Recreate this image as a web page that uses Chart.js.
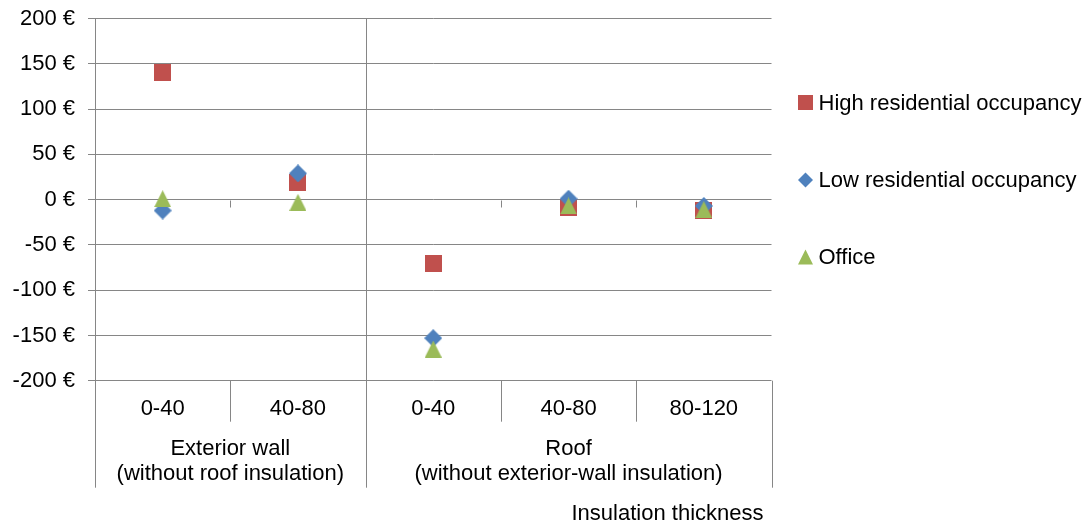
<!DOCTYPE html>
<html>
<head>
<meta charset="utf-8">
<script src="https://cdn.jsdelivr.net/npm/chart.js@4"></script>
<style>
  html, body { margin: 0; padding: 0; background: #ffffff; }
  #wrap { width: 1089px; height: 527px; }
</style>
</head>
<body>
<div id="wrap"><canvas id="c" width="1089" height="527"></canvas></div>
<script>
// Insulation thickness classes (mm), one per category on the horizontal axis
const thicknessLabels = ['0-40', '40-80', '0-40', '40-80', '80-120'];
// Building element groups and how many thickness classes each spans
const groupLabels = [
  ['Exterior wall', '(without roof insulation)'],
  ['Roof', '(without exterior-wall insulation)']
];
const groupSizes = [2, 3];
const axisTitle = 'Insulation thickness';

// Series
const seriesNames = ['High residential occupancy', 'Low residential occupancy', 'Office'];
const seriesColors = ['#C0504D', '#4F81BD', '#9BBB59'];
const highResidential = [140, 19, -70, -9, -12];
const lowResidential = [-12, 29, -153, 1, -7];
const office = [1, -3, -165, -7, -11];

// Value axis
const yMin = -200;
const yMax = 200;
const yStep = 50;
const currency = '\u20AC';

const FONT = '"Liberation Sans", Arial, Helvetica, sans-serif';
const TEXT_COLOR = '#000000';
const LINE_COLOR = '#868686';

// Marker images (square, diamond, triangle), centred on their bounding box
function makeMarker(shape, color, size) {
  const c = document.createElement('canvas');
  c.width = size; c.height = size;
  const g = c.getContext('2d');
  g.fillStyle = color;
  g.beginPath();
  traceShape(g, shape, 0, 0, size);
  g.fill();
  return c;
}
function traceShape(g, shape, x, y, s) {
  if (shape === 'square') {
    g.rect(x, y, s, s);
  } else if (shape === 'diamond') {
    g.moveTo(x + s / 2, y);
    g.lineTo(x + s, y + s / 2);
    g.lineTo(x + s / 2, y + s);
    g.lineTo(x, y + s / 2);
    g.closePath();
  } else {
    g.moveTo(x + s / 2, y);
    g.lineTo(x + s, y + s);
    g.lineTo(x, y + s);
    g.closePath();
  }
}
const markerShapes = ['square', 'diamond', 'triangle'];
const markerSizes = [17, 18, 17];

const seriesData = [highResidential, lowResidential, office];
const datasets = seriesData.map((d, i) => ({
  label: seriesNames[i],
  data: d,
  showLine: false,
  pointStyle: makeMarker(markerShapes[i], seriesColors[i], markerSizes[i]),
  pointRadius: 9,
  pointHoverRadius: 9,
  backgroundColor: seriesColors[i],
  borderColor: seriesColors[i],
  // office drawn on top, high residential at the bottom
  order: 3 - i
}));

// Draws the two-level category axis, its separators, the axis title and the legend
const groupedAxis = {
  id: 'groupedAxis',
  beforeDatasetsDraw(chart) {
    const { ctx, chartArea: a, scales: { x, y } } = chart;
    const n = thicknessLabels.length;
    const bounds = [a.left];
    for (let i = 1; i < n; i++) {
      bounds.push((x.getPixelForValue(i - 1) + x.getPixelForValue(i)) / 2);
    }
    bounds.push(a.right);
    const crisp = v => Math.round(v) + 0.5;
    const y0 = y.getPixelForValue(0);
    const catBottom = a.bottom + 41;
    const groupBottom = a.bottom + 107;

    const groupEdges = [0];
    groupSizes.reduce((acc, s) => { groupEdges.push(acc + s); return acc + s; }, 0);

    ctx.save();
    ctx.strokeStyle = LINE_COLOR;
    ctx.lineWidth = 1;
    ctx.beginPath();
    for (let k = 0; k <= n; k++) {
      const px = crisp(bounds[k]);
      const isGroup = groupEdges.includes(k);
      if (isGroup) {
        const top = (k === 0 || k === n) ? a.bottom : a.top;
        ctx.moveTo(px, top);
        ctx.lineTo(px, groupBottom);
      } else {
        ctx.moveTo(px, a.bottom);
        ctx.lineTo(px, catBottom);
        ctx.moveTo(px, crisp(y0));
        ctx.lineTo(px, crisp(y0) + 7);
      }
    }
    ctx.stroke();

    ctx.fillStyle = TEXT_COLOR;
    ctx.font = '22px ' + FONT;
    ctx.textAlign = 'center';
    ctx.textBaseline = 'middle';
    thicknessLabels.forEach((t, i) => {
      ctx.fillText(t, x.getPixelForValue(i), a.bottom + 28);
    });
    groupLabels.forEach((lines, gi) => {
      const cx = (bounds[groupEdges[gi]] + bounds[groupEdges[gi + 1]]) / 2;
      lines.forEach((line, li) => {
        ctx.fillText(line, cx, a.bottom + 68 + li * 25);
      });
    });
    ctx.textAlign = 'right';
    ctx.fillText(axisTitle, a.right - 8, a.bottom + 133);
    ctx.restore();
  },
  afterDraw(chart) {
    const { ctx, chartArea: a } = chart;
    const lx = a.right + 34;
    const rows = [102.5, 180, 257];
    const s = 15;
    ctx.save();
    ctx.font = '22px ' + FONT;
    ctx.textAlign = 'left';
    ctx.textBaseline = 'middle';
    seriesNames.forEach((name, i) => {
      ctx.fillStyle = seriesColors[i];
      ctx.beginPath();
      traceShape(ctx, markerShapes[i], lx - s / 2, rows[i] - s / 2, s);
      ctx.fill();
      ctx.fillStyle = TEXT_COLOR;
      ctx.fillText(name, lx + 13, rows[i] + 1);
    });
    ctx.restore();
  }
};

new Chart(document.getElementById('c'), {
  type: 'line',
  data: { labels: thicknessLabels, datasets },
  options: {
    responsive: false,
    animation: false,
    events: [],
    layout: { padding: { left: 0, right: 317.5, top: 18.6, bottom: 146.3 } },
    plugins: { legend: { display: false }, tooltip: { enabled: false } },
    scales: {
      x: { display: false, offset: true },
      y: {
        min: yMin,
        max: yMax,
        afterFit(scale) {
          scale.width = 95;
          scale.paddingTop = 0;
          scale.paddingBottom = 0;
        },
        ticks: {
          stepSize: yStep,
          padding: 13,
          color: TEXT_COLOR,
          font: { family: FONT, size: 22 },
          callback: v => v + ' ' + currency
        },
        grid: { color: LINE_COLOR, tickColor: LINE_COLOR, tickLength: 7, lineWidth: 1 },
        border: { color: LINE_COLOR, width: 1 }
      }
    }
  },
  plugins: [groupedAxis]
});
</script>
</body>
</html>
